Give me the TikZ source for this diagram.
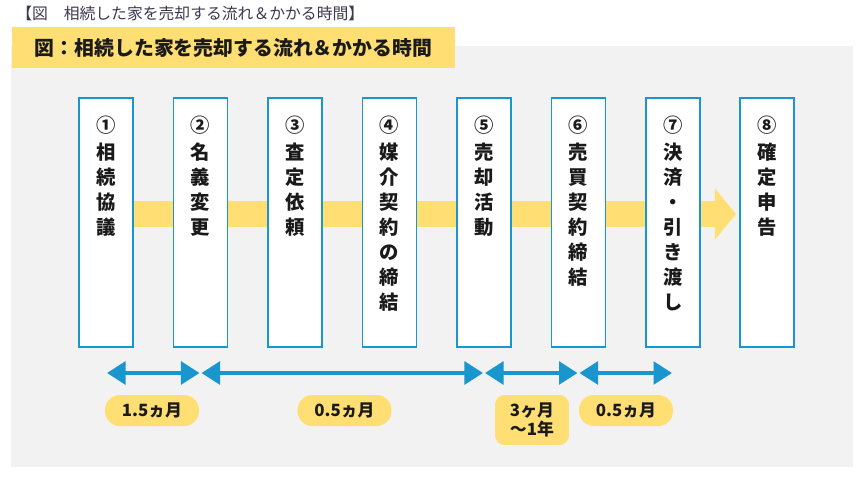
\documentclass[tikz,border=0pt]{standalone}
\usepackage{fontspec}
\newfontfamily\jpfont{Noto Sans CJK JP}
\usepackage{xcolor}
\definecolor{hfBlue}  {RGB}{ 24, 150, 205}
\definecolor{hfYellow}{RGB}{255, 223, 115}
\definecolor{hfPanel} {RGB}{242, 242, 242}
\definecolor{hfInk}   {RGB}{ 26,  26,  26}
\definecolor{hfGrey}  {RGB}{ 62,  56,  78}
\usepackage{tikz}
\usetikzlibrary{
  arrows.meta,
  backgrounds,
}

\begin{document}
\begin{tikzpicture}[
  x=0.02cm, y=-0.02cm,
  stage/.style ={draw=hfBlue, line width=1.1pt, fill=white,
                 minimum width=1.08cm, minimum height=4.98cm, inner sep=0pt},
  stxt/.style  ={anchor=north, align=center, inner sep=0pt, text=hfInk,
                 font=\jpfont\bfseries\fontsize{11}{14.2}\selectfont},
  span/.style  ={{Triangle[length=10.5pt,width=13pt]}-{Triangle[length=10.5pt,width=13pt]},
                 line width=1.8pt, color=hfBlue, shorten <=0.6pt, shorten >=0.6pt},
  pill/.style  ={fill=hfYellow, rounded corners=8.5pt, text=hfInk, align=center,
                 minimum width=1.88cm, minimum height=0.62cm, inner sep=0pt,
                 font=\jpfont\bfseries\fontsize{9.6}{10.6}\selectfont},
  flow/.style  ={line width=14.7pt, color=hfYellow, shorten >=1.7pt,
                 -{Triangle[length=12pt,width=29pt,line width=0pt]}},
]
  \useasboundingbox (0,0) rectangle (860,477);

  % Heading line and yellow banner
  \node[anchor=west, inner sep=0pt, text=hfGrey,
        font=\jpfont\fontsize{9}{10}\selectfont] (ttl) at (16,13)
    {【図　相続した家を売却する流れ＆かかる時間】};
  \node[fill=hfYellow, minimum width=8.86cm, minimum height=0.82cm,
        inner sep=0pt, text=hfInk,
        font=\jpfont\bfseries\fontsize{11.3}{12}\selectfont] (band) at (233.5,47.5)
    {図：相続した家を売却する流れ＆かかる時間};

  % Eight stages, equal pitch
  \node[stage] (s1) at (106.0,222.5) {};
  \node[stage] (s2) at (200.5,222.5) {};
  \node[stage] (s3) at (295.0,222.5) {};
  \node[stage] (s4) at (389.5,222.5) {};
  \node[stage] (s5) at (484.0,222.5) {};
  \node[stage] (s6) at (578.5,222.5) {};
  \node[stage] (s7) at (673.0,222.5) {};
  \node[stage] (s8) at (767.0,222.5) {};

  \node[stxt] (t1) at (106.0,116) {①\\[1pt]相\\続\\協\\議};
  \node[stxt] (t2) at (200.5,116) {②\\[1pt]名\\義\\変\\更};
  \node[stxt] (t3) at (295.0,116) {③\\[1pt]査\\定\\依\\頼};
  \node[stxt] (t4) at (389.5,116) {④\\[1pt]媒\\介\\契\\約\\の\\締\\結};
  \node[stxt] (t5) at (484.0,116) {⑤\\[1pt]売\\却\\活\\動};
  \node[stxt] (t6) at (578.5,116) {⑥\\[1pt]売\\買\\契\\約\\締\\結};
  \node[stxt] (t7) at (673.0,116) {⑦\\[1pt]決\\済\\・\\引\\き\\渡\\し};
  \node[stxt] (t8) at (767.0,116) {⑧\\[1pt]確\\定\\申\\告};

  % Grey panel and the yellow flow go underneath the stages
  \begin{scope}[on background layer]
    \fill[hfPanel] (11,46) rectangle (853,467);
    \draw[flow] ([yshift=4.8pt]s1.east) -- ([yshift=4.8pt]s8.west);
  \end{scope}

  % Time spans below the stages
  \coordinate (m1) at (106.0,373);
  \coordinate (m2) at (200.5,373);
  \coordinate (m5) at (484.0,373);
  \coordinate (m6) at (578.5,373);
  \coordinate (m7) at (673.0,373);

  \draw[span] (m1) -- (m2);
  \draw[span] (m2) -- (m5);
  \draw[span] (m5) -- (m6);
  \draw[span] (m6) -- (m7);

  \node[pill] (p1) at (152.0,410.5) {1.5ヵ月};
  \node[pill] (p2) at (344.5,410.5) {0.5ヵ月};
  \node[pill, minimum width=1.48cm, minimum height=1.0cm,
        rounded corners=5.5pt] (p3) at (532.0,420.0) {3ヶ月\\～1年};
  \node[pill] (p4) at (626.0,410.5) {0.5ヵ月};
\end{tikzpicture}
\end{document}
